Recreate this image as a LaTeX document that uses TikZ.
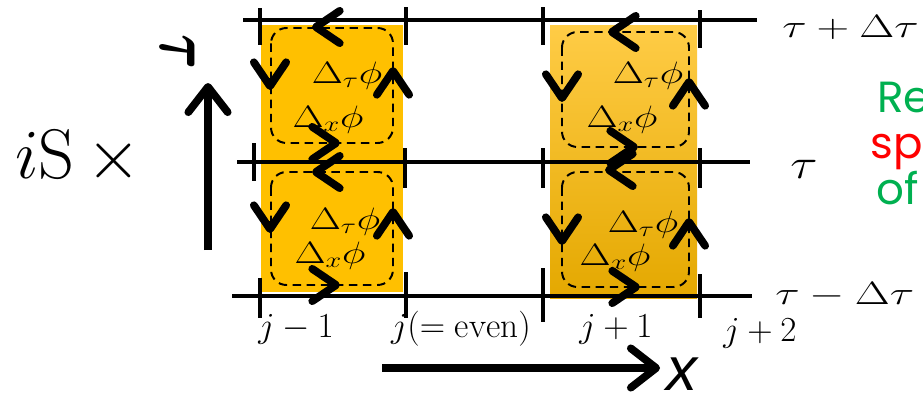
\RequirePackage{fix-cm}
\documentclass[tikz,border=0pt]{standalone}
\usepackage{amsmath}
\usepackage{graphicx}
\usepackage{fontspec}
\newfontfamily\notefont{Poppins}
\newfontfamily\axisfont{Liberation Sans}
\usetikzlibrary{arrows.meta}

\definecolor{plaqorange}{RGB}{255,192,0}
\definecolor{plaqtop}{RGB}{255,204,70}
\definecolor{plaqbot}{RGB}{228,168,0}
\definecolor{notegreen}{RGB}{0,176,80}
\definecolor{notered}{RGB}{255,0,0}

\tikzset{
  rung/.style={line width=3pt},
  tick/.style={line width=3pt},
  plaq/.style={line width=1.4pt, dash pattern=on 6pt off 4pt, rounded corners=11pt},
  chev/.style={line width=3pt, -{Straight Barb[length=17pt, width=23pt, line width=5.5pt, round]}},
  bigarrow/.style={line width=5.5pt, -{Straight Barb[length=18pt, width=28pt, line width=5.5pt, round]}},
  dlabel/.style={anchor=base, inner sep=0pt, font=\fontsize{22}{22}\selectfont},
  jlabel/.style={anchor=base, inner sep=0pt, font=\fontsize{25}{26}\selectfont},
  tlabel/.style={anchor=base west, inner sep=0pt, font=\fontsize{23}{24}\selectfont},
  note/.style={anchor=base west, inner sep=0pt, font=\notefont\fontsize{31}{32}\selectfont}
}

\begin{document}
\begin{tikzpicture}[x=0.025cm, y=-0.025cm]
\useasboundingbox (0,0) rectangle (923,397);
% --- orange plaquettes ---
\fill[plaqorange] (261,25) rectangle (403,292);
\shade[top color=plaqtop, bottom color=plaqbot] (550,25) rectangle (697,298);
% --- time slices ---
\draw[rung] (243,20) -- (757,20);
\draw[rung] (237,162) -- (750,162);
\draw[rung] (232,296) -- (752,296);
\foreach \x/\a/\b in {260/8/45, 406/7/45, 543/7/45, 700/10/48,
                      254/143/181, 405/148/188, 543/148/188, 700/148/188,
                      260/278/318, 406/272/318, 543/268/322, 700/274/318}
  \draw[tick] (\x,\a) -- (\x,\b);
% --- dashed loops ---
\draw[plaq] (271,28) rectangle (393,143);
\draw[plaq] (271,172) rectangle (393,285);
\draw[plaq] (562,32) rectangle (689,147);
\draw[plaq] (562,172) rectangle (689,287);
% --- loop arrows ---
\draw[chev] (322,27) -- (312,27);
\draw[chev] (270,78) -- (270,90);
\draw[chev] (393,79) -- (393,67);
\draw[chev] (330,143) -- (340,143);
\draw[chev] (322,172) -- (312,172);
\draw[chev] (270,221) -- (270,233);
\draw[chev] (393,220) -- (393,208);
\draw[chev] (330,285) -- (340,285);
\draw[chev] (618,32) -- (608,32);
\draw[chev] (562,90) -- (562,102);
\draw[chev] (689,90) -- (689,78);
\draw[chev] (628,147) -- (638,147);
\draw[chev] (615,170) -- (605,170);
\draw[chev] (562,233) -- (562,245);
\draw[chev] (689,230) -- (689,218);
\draw[chev] (630,287) -- (640,287);
% --- differences ---
\node[dlabel] (tauLT) at (347,83) {\scalebox{1.3}[1]{$\Delta_\tau\phi$}};
\node[dlabel] (xLT) at (328,127) {\scalebox{1.3}[1]{$\Delta_x\phi$}};
\node[dlabel] (tauLB) at (345,229) {\scalebox{1.3}[1]{$\Delta_\tau\phi$}};
\node[dlabel] (xLB) at (330,263) {\scalebox{1.3}[1]{$\Delta_x\phi$}};
\node[dlabel] (tauRT) at (648,83) {\scalebox{1.3}[1]{$\Delta_\tau\phi$}};
\node[dlabel] (xRT) at (622,127) {\scalebox{1.3}[1]{$\Delta_x\phi$}};
\node[dlabel] (tauRB) at (643,232) {\scalebox{1.3}[1]{$\Delta_\tau\phi$}};
\node[dlabel] (xRB) at (615,265) {\scalebox{1.3}[1]{$\Delta_x\phi$}};
% --- site and time labels ---
\node[jlabel] (jm) at (296,337) {$j-1$};
\node[jlabel] (j0) at (461,337) {$j(=\mathrm{even})$};
\node[jlabel] (jp) at (616,337) {$j+1$};
\node[jlabel] (jpp) at (760,341) {$j+2$};
\node[tlabel] (tup) at (782,37) {\scalebox{1.4}[1]{$\tau+\Delta\tau$}};
\node[tlabel] (tmid) at (790,178) {\fontsize{30}{30}\selectfont\scalebox{1.2}[1]{$\tau$}};
\node[tlabel] (tdown) at (775,304) {\scalebox{1.4}[1]{$\tau-\Delta\tau$}};
% --- axes ---
\coordinate (tfoot) at (208,250);
\coordinate (thead) at (208,83);
\draw[bigarrow] (tfoot) -- (thead);
\node[rotate=-90, font=\fontsize{38}{38}\selectfont] (taxis) at (178,52) {\scalebox{1}[1.45]{$\boldsymbol{\tau}$}};
\coordinate (xfoot) at (382,368);
\coordinate (xhead) at (660,368);
\draw[bigarrow] (xfoot) -- (xhead);
\node[anchor=base west, inner sep=0pt, text height=0.5em, text depth=0pt, font=\axisfont\itshape\fontsize{44}{44}\selectfont] (xaxis) at (666,390) {x};
\node[anchor=base west, inner sep=0pt, font=\fontsize{50}{50}\selectfont] (action) at (15,178) {$i\mathrm{S}\,\times$};
% --- side note ---
\node[note, text=notegreen] (re) at (877,112) {Re};
\node[note, text=notered] (sp) at (870,158) {sp};
\node[note, text=notegreen] (of) at (876,204) {of};
\end{tikzpicture}
\end{document}
